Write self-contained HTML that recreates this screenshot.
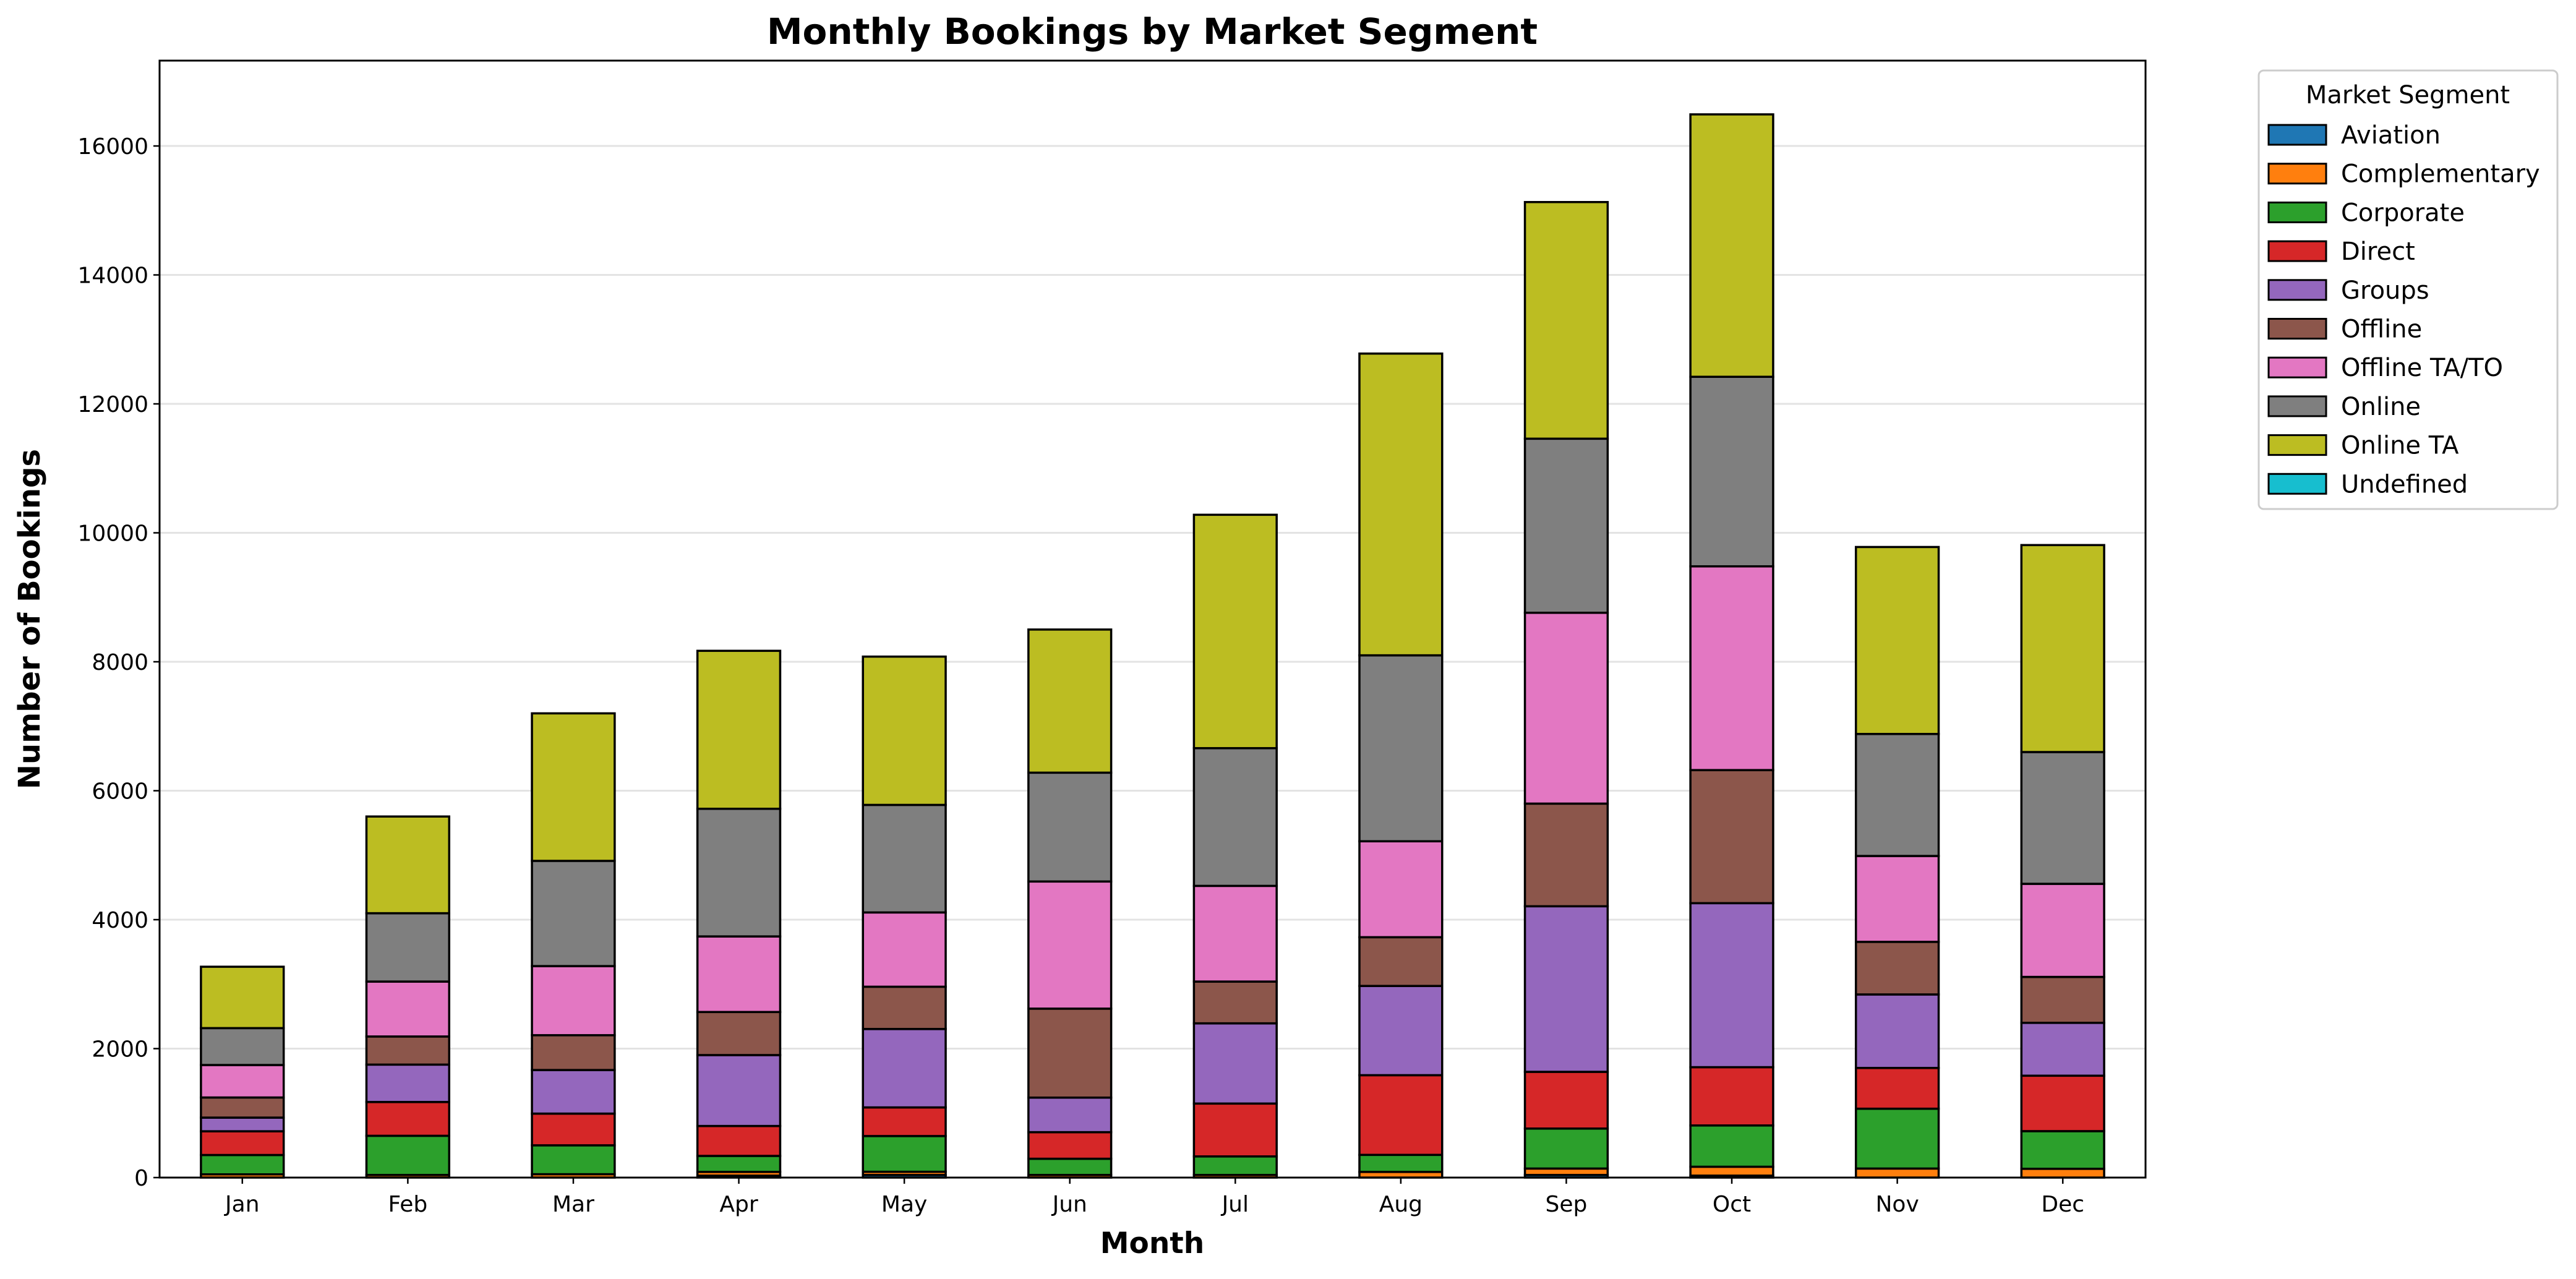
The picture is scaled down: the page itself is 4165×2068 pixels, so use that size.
<!DOCTYPE html>
<html><head><meta charset="utf-8"><style>
html,body{margin:0;padding:0;background:#fff;}
svg{display:block;font-family:"DejaVu Sans","Liberation Sans",sans-serif;}
</style></head><body>
<svg id="chart" width="4165" height="2068" viewBox="0 0 4165 2068" xmlns="http://www.w3.org/2000/svg">
<rect width="4165" height="2068" fill="#fff"/>
<text x="1863" y="71" text-anchor="middle" font-size="58" font-weight="bold">Monthly Bookings by Market Segment</text>
<g id="grid"></g>
<g id="bars"></g>
<rect x="258" y="98" width="3211" height="1806" fill="none" stroke="#000" stroke-width="3"/>
<g id="axes"></g>
<text transform="translate(64,1001) rotate(-90)" text-anchor="middle" font-size="48" font-weight="bold">Number of Bookings</text>
<text x="1863" y="2026" text-anchor="middle" font-size="47" font-weight="bold">Month</text>
<g id="legend">
<rect x="3652" y="114" width="483" height="709" rx="8" fill="#fff" stroke="#ccc" stroke-width="3"/>
<text x="3893" y="167" text-anchor="middle" font-size="40">Market Segment</text>
</g>
</svg>
<script>
const months = ["Jan","Feb","Mar","Apr","May","Jun","Jul","Aug","Sep","Oct","Nov","Dec"];
const segments = ["Aviation","Complementary","Corporate","Direct","Groups","Offline","Offline TA/TO","Online","Online TA","Undefined"];
const colors = ["#1f77b4","#ff7f0e","#2ca02c","#d62728","#9467bd","#8c564b","#e377c2","#7f7f7f","#bcbd22","#17becf"];
const aviation     = [0,0,0,30,40,0,0,0,40,30,0,0];
const complementary= [50,40,52,58,50,40,40,88,100,138,140,136];
const corporate    = [300,608,448,248,554,252,288,264,620,640,928,584];
const direct       = [368,524,492,464,444,412,820,1236,880,904,632,860];
const groups       = [212,580,676,1100,1216,536,1244,1384,2568,2544,1140,820];
const offline      = [312,436,540,668,656,1380,648,756,1592,2064,816,712];
const offlineTA    = [504,852,1072,1172,1152,1972,1484,1488,2960,3160,1332,1444];
const online       = [572,1060,1632,1980,1668,1688,2136,2884,2700,2940,1892,2044];
const onlineTA     = [952,1500,2288,2450,2300,2220,3620,4680,3670,4070,2900,3210];
const undefinedSeg = [0,0,0,0,0,0,0,0,0,0,0,0];
const yTicks = [0,2000,4000,6000,8000,10000,12000,14000,16000];

const series = [aviation,complementary,corporate,direct,groups,offline,offlineTA,online,onlineTA,undefinedSeg];
const NS="http://www.w3.org/2000/svg";
const L=258,R=3469,T=98,B=1904,YMAX=17324;
const y=v=>B-(v/YMAX)*(B-T);
const xu=(R-L)/12;
const x=i=>L+(i+0.5)*xu;
const bw=xu*0.5;
function mk(tag,attrs,parent){const e=document.createElementNS(NS,tag);for(const k in attrs)e.setAttribute(k,attrs[k]);parent.appendChild(e);return e;}
const grid=document.getElementById('grid'),axes=document.getElementById('axes'),bars=document.getElementById('bars');
yTicks.forEach(t=>{
  const g=mk('line',{x1:L,x2:R,y1:y(t),y2:y(t),stroke:'#e3e3e3','stroke-width':3},grid);
  
  
  mk('line',{x1:L-10,x2:L,y1:y(t),y2:y(t),stroke:'#000','stroke-width':2.5},axes);
  const tx=mk('text',{x:L-18,y:y(t)+13,'text-anchor':'end','font-size':36},axes);
  tx.textContent=t;
  
  
});
months.forEach((m,i)=>{
  mk('line',{x1:x(i),x2:x(i),y1:B,y2:B+10,stroke:'#000','stroke-width':2.5},axes);
  const tx=mk('text',{x:x(i),y:B+55,'text-anchor':'middle','font-size':36},axes);
  tx.textContent=m;
  
  
  let cum=0;
  series.forEach((s,k)=>{
    const v=s[i];
    const r=mk('rect',{x:x(i)-bw/2,y:y(cum+v),width:bw,height:Math.max(0,y(cum)-y(cum+v)),fill:colors[k],stroke:'#000','stroke-width':3.5},bars);
    
    
    cum+=v;
  });
});
const lg=document.getElementById('legend');
segments.forEach((s,k)=>{
  const yy=218+k*62.7;
  const r=mk('rect',{x:3668,y:yy-16,width:93,height:32,fill:colors[k],stroke:'#000','stroke-width':3},lg);
  
  
  const t=mk('text',{x:3785,y:yy+14,'font-size':40},lg);
  t.textContent=s;
  
  
});
</script>
</body></html>
